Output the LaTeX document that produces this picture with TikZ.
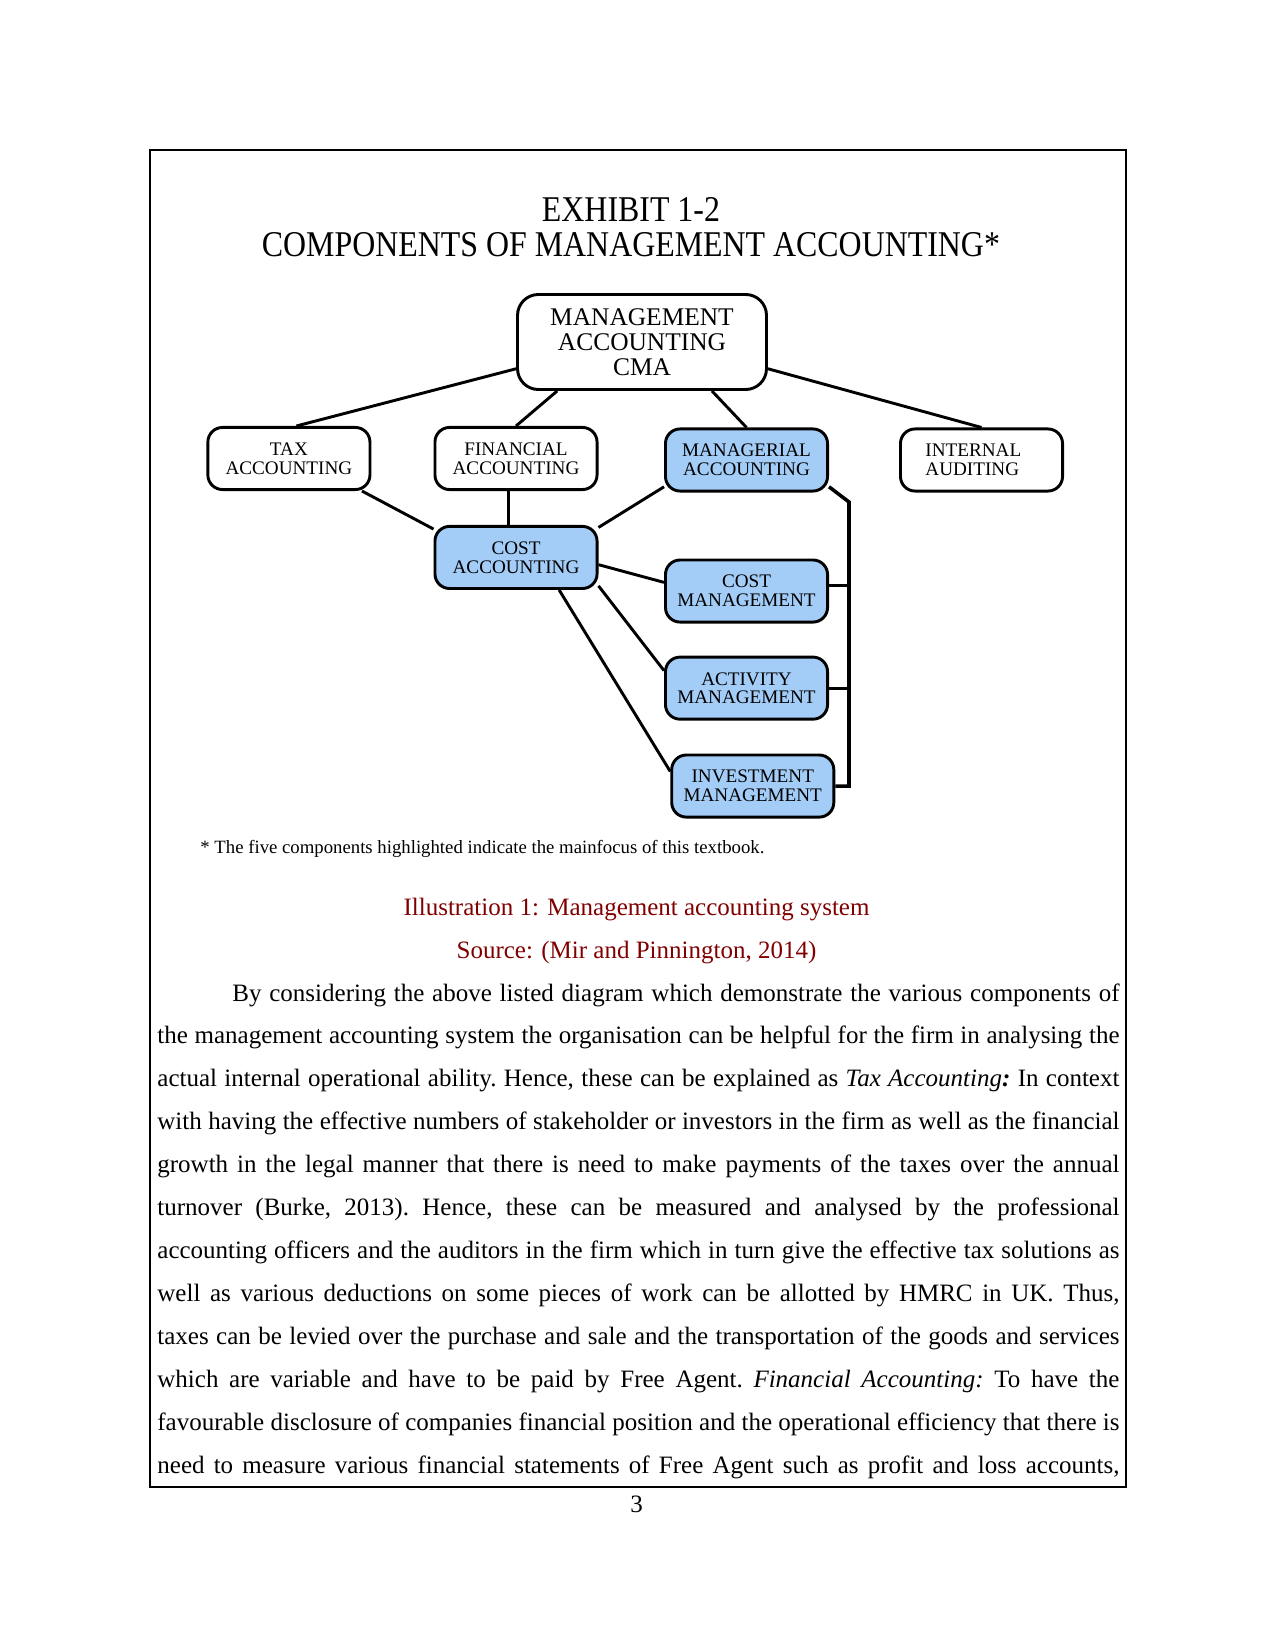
\documentclass[tikz,border=0pt]{standalone}
\usepackage{fontspec}
\setmainfont{Liberation Serif}
\newfontfamily\exhibitfont[FakeStretch=0.88]{Liberation Serif}
\usetikzlibrary{positioning}
\definecolor{keyblue}{HTML}{A3CCF7}
\definecolor{captionred}{HTML}{800000}

\begin{document}
\begin{tikzpicture}[x=0.48pt, y=-0.48pt,
    node distance=16pt,
    plainbox/.style={draw, rounded corners=7pt, line width=1.4pt,
                     minimum width=77.8pt, minimum height=29.8pt, inner sep=2pt,
                     align=center, font=\fontsize{9.2}{9}\selectfont},
    keybox/.style={plainbox, fill=keyblue},
    link/.style={line width=1.4pt},
    caption/.style={text=captionred, font=\fontsize{12}{14}\selectfont,
                    inner sep=0pt, anchor=base}
]
    \useasboundingbox (0,0) rectangle (1275,1650);

    % Page frame
    \draw[line width=0.7pt] (150,150) rectangle (1126,1487);

    % Exhibit title
    \node[anchor=base, inner sep=0pt, font=\exhibitfont\fontsize{17.4}{17}\selectfont]
         (exhibit) at (631,222) {EXHIBIT 1-2};
    \node[anchor=base, inner sep=0pt, font=\exhibitfont\fontsize{17.4}{17}\selectfont]
         (components) at (631,257) {COMPONENTS OF MANAGEMENT ACCOUNTING*};

    % Management accounting (top)
    \node[plainbox, rounded corners=10pt, minimum width=119.5pt, minimum height=45.6pt,
          font=\fontsize{12.2}{12}\selectfont] (cma) at (642,342)
         {MANAGEMENT\\ACCOUNTING\\CMA};

    % Second row
    \node[plainbox] (fin) at (516,458.5) {FINANCIAL\\ACCOUNTING};
    \node[plainbox, left=29.8pt of fin] (tax) {TAX\\ACCOUNTING};
    \node[keybox] (mgr) at (746.5,460) {MANAGERIAL\\ACCOUNTING};
    \node[plainbox, text width=53.8pt, align=left, right=33.6pt of mgr] (int)
         {INTERNAL\\AUDITING};

    % Cost accounting
    \node[keybox, below=16.3pt of fin] (cost) {COST\\ACCOUNTING};

    % Management column
    \node[keybox, below=31.7pt of mgr] (cmgmt) {COST\\MANAGEMENT};
    \node[keybox, below=15.4pt of cmgmt] (act) {ACTIVITY\\MANAGEMENT};
    \node[keybox, below=15.8pt of act, xshift=3pt] (inv) {INVESTMENT\\MANAGEMENT};

    % Links
    \draw[link] (cma.192) -- (tax.77);
    \draw[link] (cma.210) -- (fin.north);
    \draw[link] (cma.325) -- (mgr.north);
    \draw[link] (cma.348) -- (int.north);
    \draw[link] (tax.336) -- (cost.161);
    \draw[link] ([xshift=-3.4pt]fin.south) -- ([xshift=-3.4pt]cost.north);
    \draw[link] (cost.20) -- (mgr.198);
    \draw[link] (cost.355) -- (cmgmt.174);
    \draw[link] (cost.341) -- (act.168);
    \draw[link] (cost.323) -- (inv.170);

    % Bracket on the right
    \coordinate (bartop) at (849,502);
    \draw[link, line width=1.7pt] (mgr.342) -- (bartop) -- (bartop |- inv.east) -- (inv.east);
    \draw[link] (cmgmt.4) -- (cmgmt.4 -| bartop);
    \draw[link] (act.east) -- (act.east -| bartop);

    % Footnote
    \node[anchor=base west, inner sep=0pt, font=\fontsize{9}{11}\selectfont]
         (note) at (200,853)
         {* The five components highlighted indicate the mainfocus of this textbook.};

    % Caption
    \node[caption] (illus) at (636.5,915) {Illustration 1: Management accounting system};
    \node[caption] (source) at (636.5,958) {Source: (Mir and Pinnington, 2014)};

    % Body text
    \node[anchor=north west, inner sep=0pt, text width=461.8pt, align=justify,
          font=\fontsize{12}{20.6}\selectfont] (body) at (157,983)
    {\frenchspacing\tolerance=10000\hyphenpenalty=10000\parfillskip=0pt
     \hspace*{36pt}By considering the above listed diagram which demonstrate the various components of\linebreak
     the management accounting system the organisation can be helpful for the firm in analysing the\linebreak
     actual internal operational ability. Hence, these can be explained as \textit{Tax Accounting}\textbf{\textit{:}} In context\linebreak
     with having the effective numbers of stakeholder or investors in the firm as well as the financial\linebreak
     growth in the legal manner that there is need to make payments of the taxes over the annual\linebreak
     turnover (Burke, 2013). Hence, these can be measured and analysed by the professional\linebreak
     accounting officers and the auditors in the firm which in turn give the effective tax solutions as\linebreak
     well as various deductions on some pieces of work can be allotted by HMRC in UK. Thus,\linebreak
     taxes can be levied over the purchase and sale and the transportation of the goods and services\linebreak
     which are variable and have to be paid by Free Agent. \textit{Financial Accounting:} To have the\linebreak
     favourable disclosure of companies financial position and the operational efficiency that there is\linebreak
     need to measure various financial statements of Free Agent such as profit and loss accounts,\par};

    % Page number
    \node[anchor=base, inner sep=0pt, font=\fontsize{12}{14}\selectfont] (pagenum) at (636.5,1512) {3};
\end{tikzpicture}
\end{document}
